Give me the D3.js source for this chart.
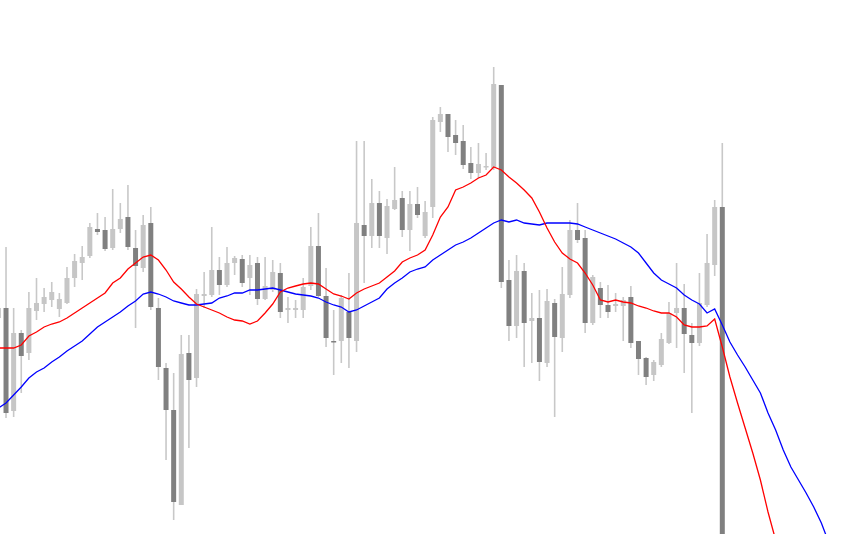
<!DOCTYPE html>
<html>
<head>
<meta charset="utf-8">
<script src="https://cdn.jsdelivr.net/npm/d3@7"></script>
<style>
  html, body { margin: 0; padding: 0; background: #fff; }
  svg { display: block; }
</style>
</head>
<body>
<svg width="855" height="534"></svg>
<script>
// candle OHLC (price units)
const opens = [216,226,123,201,181,223,230,234,225,231,256,271,278,305,304,286,305,317,286,266,
  311,226,166,124,29,181,156,238,239,264,249,271,275,256,271,235,244,261,224,224,
  224,248,288,238,193,193,222,193,309,298,331,296,325,336,304,330,298,327,412,420,
  399,393,371,361,367,366,449,254,208,263,213,216,171,231,196,239,304,296,211,246,
  229,228,228,237,193,176,159,169,191,221,226,199,191,229,269,327]
const highs = [228,287,226,204,242,256,246,252,241,267,280,288,311,321,317,345,331,349,304,319,
  327,236,171,161,199,199,245,262,307,277,287,278,279,279,277,277,274,271,237,234,
  256,307,321,266,224,239,261,393,393,355,343,335,367,343,343,347,333,417,427,420,
  414,409,387,391,381,467,449,274,279,271,241,244,245,235,267,314,331,304,259,252,
  249,241,237,248,193,177,174,201,232,271,250,211,261,300,334,391]
const lows = [214,116,117,141,174,214,222,227,217,230,247,254,276,299,283,284,301,284,206,262,
  224,154,74,14,29,86,147,226,237,239,247,259,247,239,229,234,242,216,211,216,
  216,244,237,187,159,171,166,182,251,286,286,280,324,297,283,316,296,316,402,382,
  379,365,355,356,364,364,246,193,196,167,171,153,167,117,182,236,291,201,209,216,
  216,222,193,186,159,149,153,167,190,186,161,121,188,227,258,-200]
const closes = [226,121,201,178,226,231,237,242,235,256,273,277,307,302,285,305,315,287,268,309,
  227,167,124,32,180,154,240,240,264,249,271,276,251,269,235,248,262,222,226,226,
  247,288,238,196,192,236,196,311,298,331,298,328,334,304,330,319,322,414,420,397,
  391,369,361,370,368,450,252,208,263,211,216,172,233,197,240,304,294,211,257,229,
  222,230,234,191,175,157,172,195,221,226,200,191,231,271,327,-180]

// moving averages, one value per bar slot (they run on past the last visible candle)
const maFast = [186,186,186,189,198,202,207,210,212,216,221,226,231,236,241,251,256,265,271,277,
  279,274,264,252,245,237,230,227,224,221,217,214,213,210,213,221,230,242,246,248,
  250,251,250,245,240,238,235,241,245,248,251,257,263,272,276,279,284,299,317,327,
  344,347,351,356,359,367,364,357,351,344,336,322,306,292,281,275,271,261,249,234,
  232,234,232,231,228,226,223,221,221,217,209,207,207,208,215,187,157,131,106,81,
  54,22,-6]
const maSlow = [126,131,139,147,156,162,166,172,177,183,188,193,200,207,212,217,222,228,233,240,
  242,240,237,233,231,229,229,230,231,236,238,241,241,244,244,245,246,244,242,240,
  239,238,236,232,229,227,222,224,228,232,236,245,251,256,262,265,267,274,279,284,
  289,292,296,301,306,311,314,312,314,311,310,309,311,311,311,311,310,307,304,301,
  298,295,291,287,281,271,261,254,250,246,239,234,230,221,225,209,192,179,167,154,
  141,121,104,84,67,54,41,27,11,-9]

const width = 855, height = 534
const upColor = '#c6c6c6', downColor = '#808080', wickColor = '#c8c8c8'

const svg = d3.select('svg')

const x = d3.scaleLinear().domain([0, 109]).range([-1.6, -1.6 + 7.62 * 109])
const y = d3.scaleLinear().domain([0, 534]).range([height, 0])

const candles = opens.map((o, i) => ({ i, o, h: highs[i], l: lows[i], c: closes[i] }))

const g = svg.append('g')

// wicks
g.selectAll('line.wick')
  .data(candles)
  .join('line')
  .attr('class', 'wick')
  .attr('x1', d => x(d.i))
  .attr('x2', d => x(d.i))
  .attr('y1', d => y(d.h))
  .attr('y2', d => y(d.l))
  .style('stroke', wickColor)
  .style('stroke-width', 1.6)

// bodies
const bodyW = 5
g.selectAll('rect.body')
  .data(candles)
  .join('rect')
  .attr('class', 'body')
  .attr('x', d => x(d.i) - bodyW / 2)
  .attr('y', d => y(Math.max(d.o, d.c)))
  .attr('width', bodyW)
  .attr('height', d => Math.max(1.5, Math.abs(y(d.o) - y(d.c))))
  .style('fill', d => d.c >= d.o ? upColor : downColor)

function drawLine(vals, color) {
  const line = d3.line()
    .x((d, i) => x(i))
    .y(d => y(d))
  svg.append('path')
    .attr('d', line(vals))
    .style('fill', 'none')
    .style('stroke', color)
    .style('stroke-width', 1.3)
}

drawLine(maSlow, '#0000ff')
drawLine(maFast, '#ff0000')
</script>
</body>
</html>
